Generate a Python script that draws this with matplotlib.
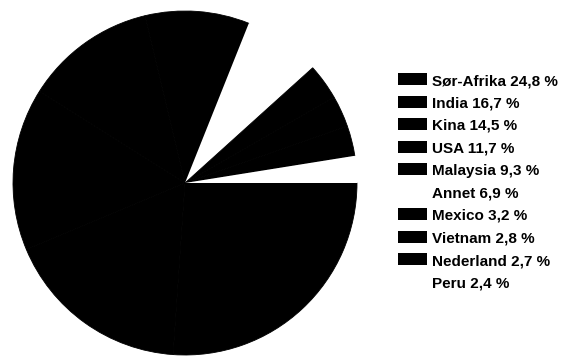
import matplotlib
matplotlib.use("Agg")
import matplotlib.pyplot as plt
from matplotlib.patches import Rectangle

countries = ["Sør-Afrika", "India", "Kina", "USA", "Malaysia", "Annet",
             "Mexico", "Vietnam", "Nederland", "Peru"]
shares = [24.8, 16.7, 14.5, 11.7, 9.3, 6.9, 3.2, 2.8, 2.7, 2.4]
colors = ["#000000", "#000000", "#000000", "#000000", "#000000", "#ffffff",
          "#000000", "#000000", "#000000", "#ffffff"]

plt.rcParams['font.family'] = ['Liberation Sans', 'DejaVu Sans']

W, H = 569, 356
fig = plt.figure(figsize=(W / 100, H / 100), dpi=100)

cx, cy, r = 185, 183, 172
ax = fig.add_axes([(cx - r) / W, (H - cy - r) / H, 2 * r / W, 2 * r / H])
wedges, _ = ax.pie(shares, colors=colors, startangle=0, counterclock=False,
                   radius=1)
for w, col in zip(wedges, colors):
    w.set_edgecolor(col)
    w.set_linewidth(0.6 if col == "#000000" else 0)
ax.set_xlim(-1, 1)
ax.set_ylim(-1, 1)
ax.set_aspect('equal')
ax.axis('off')

y0, dy = 85, 22.5
for i, (c, s, col) in enumerate(zip(countries, shares, colors)):
    yb = y0 + i * dy
    fig.patches.append(Rectangle((398 / W, (H - yb) / H), 29 / W, 12 / H,
                                 transform=fig.transFigure, facecolor=col,
                                 edgecolor='none'))
    label = f"{c} {s:.1f} %".replace('.', ',')
    fig.text(432 / W, (H - yb) / H, label, fontsize=11, fontweight='bold',
             ha='left', va='baseline')

fig.savefig("out.png", dpi=100)
